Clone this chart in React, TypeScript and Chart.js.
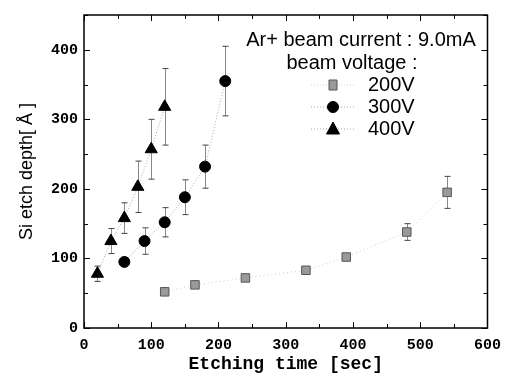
import React, { useEffect, useRef } from 'react';
import { Chart, registerables } from 'chart.js';
Chart.register(...registerables);

// Etching time [sec] and Si etch depth [Å]
const t200 = [120, 165, 240, 330, 390, 480, 540];
const d200 = [52, 62, 72, 83, 102, 138, 195];
const e200 = [4, 4, 5, 4, 4, 12, 23];

const t300 = [60, 90, 120, 150, 180, 210];
const d300 = [95, 125, 152, 188, 232, 355];
const e300 = [5, 19, 21, 25, 31, 50];

const t400 = [20, 40, 60, 80, 100, 120];
const d400 = [78, 125, 158, 203, 257, 318];
const e400 = [11, 18, 22, 37, 43, 55];

const legendHeader = ['Ar+ beam current : 9.0mA', 'beam voltage :'];
const legendLabels = ['200V', '300V', '400V'];

const xTicks = [0, 100, 200, 300, 400, 500, 600];
const yTicks = [0, 100, 200, 300, 400];

const mono = '"Liberation Mono", "DejaVu Sans Mono", monospace';
const sans = '"Liberation Sans", Arial, sans-serif';

function pts(xs: number[], ys: number[]) {
  return xs.map((x, i) => ({ x, y: ys[i] }));
}

const errors = [e200, e300, e400];

const errorBarPlugin = {
  id: 'errorBars',
  beforeDatasetsDraw(chart: any) {
    const { ctx, scales } = chart;
    const xs = scales.x, ys = scales.y;
    ctx.save();
    chart.data.datasets.forEach((ds: any, di: number) => {
      const errs = errors[di];
      ds.data.forEach((p: any, i: number) => {
        const px = Math.round(xs.getPixelForValue(p.x)) + 0.5;
        const top = ys.getPixelForValue(p.y + errs[i]);
        const bot = ys.getPixelForValue(p.y - errs[i]);
        ctx.strokeStyle = '#888';
        ctx.lineWidth = 1;
        ctx.beginPath();
        ctx.moveTo(px, top);
        ctx.lineTo(px, bot);
        ctx.stroke();
        ctx.strokeStyle = '#444';
        ctx.beginPath();
        ctx.moveTo(px - 3, top);
        ctx.lineTo(px + 3, top);
        ctx.moveTo(px - 3, bot);
        ctx.lineTo(px + 3, bot);
        ctx.stroke();
      });
    });
    ctx.restore();
  },
};

const frameTicksPlugin = {
  id: 'frameTicks',
  afterDraw(chart: any) {
    const { ctx, chartArea: a, scales } = chart;
    const xs = scales.x, ys = scales.y;
    ctx.save();
    ctx.strokeStyle = '#000';
    ctx.lineWidth = 1.5;
    ctx.strokeRect(a.left, a.top, a.right - a.left, a.bottom - a.top);
    ctx.lineWidth = 1;
    ctx.beginPath();
    for (let v = 0; v <= 600; v += 50) {
      const px = Math.round(xs.getPixelForValue(v)) + 0.5;
      const len = v % 100 === 0 ? 6 : 4;
      ctx.moveTo(px, a.bottom);
      ctx.lineTo(px, a.bottom - len);
      ctx.moveTo(px, a.top);
      ctx.lineTo(px, a.top + len);
    }
    for (let v = 0; v <= 450; v += 50) {
      const py = Math.round(ys.getPixelForValue(v)) + 0.5;
      const len = v % 100 === 0 ? 6 : 4;
      ctx.moveTo(a.left, py);
      ctx.lineTo(a.left + len, py);
      ctx.moveTo(a.right, py);
      ctx.lineTo(a.right - len, py);
    }
    ctx.stroke();

    // legend
    ctx.fillStyle = '#000';
    ctx.textBaseline = 'middle';
    ctx.font = `20px ${sans}`;
    ctx.textAlign = 'center';
    ctx.fillText(legendHeader[0], 361, 40);
    ctx.fillText(legendHeader[1], 352, 63);
    ctx.textAlign = 'left';
    const rows = [85, 107, 129];
    chart.data.datasets.forEach((ds: any, i: number) => {
      const y = rows[i];
      const mx = 333;
      ctx.save();
      ctx.strokeStyle = ds.borderColor;
      ctx.lineWidth = 1;
      ctx.setLineDash([1, 2]);
      ctx.beginPath();
      ctx.moveTo(mx - 22, y);
      ctx.lineTo(mx + 22, y);
      ctx.stroke();
      ctx.restore();
      ctx.fillStyle = ds.pointBackgroundColor;
      ctx.strokeStyle = ds.pointBorderColor;
      ctx.lineWidth = 1;
      ctx.beginPath();
      if (ds.pointStyle === 'rect') {
        ctx.rect(mx - 4, y - 5, 8, 10);
      } else if (ds.pointStyle === 'circle') {
        ctx.arc(mx, y, 5.5, 0, Math.PI * 2);
      } else {
        ctx.moveTo(mx, y - 7);
        ctx.lineTo(mx + 6.5, y + 5);
        ctx.lineTo(mx - 6.5, y + 5);
        ctx.closePath();
      }
      ctx.fill();
      ctx.stroke();
      ctx.fillStyle = '#000';
      ctx.font = `20px ${sans}`;
      ctx.fillText(legendLabels[i], 368, y);
    });
    ctx.restore();
  },
};

const bgPlugin = {
  id: 'bg',
  beforeDraw(chart: any) {
    const { ctx, width, height } = chart;
    ctx.save();
    ctx.fillStyle = '#fff';
    ctx.fillRect(0, 0, width, height);
    ctx.restore();
  },
};

export default function App() {
  const ref = useRef<HTMLCanvasElement>(null);
  useEffect(() => {
    document.body.style.margin = '0';
    const chart = new Chart(ref.current!, {
      type: 'line',
      data: {
        datasets: [
          {
            label: legendLabels[0],
            data: pts(t200, d200),
            borderColor: '#d0d0d0',
            borderWidth: 1,
            borderDash: [1, 3],
            pointStyle: 'rect',
            pointRadius: 6,
            pointBackgroundColor: '#9a9a9a',
            pointBorderColor: '#555',
            pointBorderWidth: 1,
          },
          {
            label: legendLabels[1],
            data: pts(t300, d300),
            borderColor: '#aaa',
            borderWidth: 1,
            borderDash: [1, 2],
            pointStyle: 'circle',
            pointRadius: 5.5,
            pointBackgroundColor: '#000',
            pointBorderColor: '#000',
            pointBorderWidth: 1,
          },
          {
            label: legendLabels[2],
            data: pts(t400, d400),
            borderColor: '#aaa',
            borderWidth: 1,
            borderDash: [1, 2],
            pointStyle: 'triangle',
            pointRadius: 7,
            pointBackgroundColor: '#000',
            pointBorderColor: '#000',
            pointBorderWidth: 1,
          },
        ],
      },
      options: {
        animation: false,
        responsive: true,
        maintainAspectRatio: false,
        layout: { padding: { top: 10, right: 17, left: 0, bottom: 0 } },
        plugins: { legend: { display: false }, tooltip: { enabled: false } },
        scales: {
          x: {
            type: 'linear',
            min: 0,
            max: 600,
            afterBuildTicks: (s: any) => { s.ticks = xTicks.map((v) => ({ value: v })); },
            afterFit: (s: any) => { s.height = 55; },
            grid: { display: false, drawTicks: false },
            border: { display: false },
            ticks: { padding: 8, color: '#000', font: { family: mono, size: 15, weight: 'bold' } },
            title: {
              display: true,
              text: 'Etching time [sec]',
              color: '#000',
              font: { family: mono, size: 18, weight: 'bold' },
              padding: { top: 0, bottom: 8 },
            },
          },
          y: {
            type: 'linear',
            min: 0,
            max: 450,
            afterBuildTicks: (s: any) => { s.ticks = yTicks.map((v) => ({ value: v })); },
            afterFit: (s: any) => { s.width = 84; },
            grid: { display: false, drawTicks: false },
            border: { display: false },
            ticks: { padding: 6, color: '#000', font: { family: mono, size: 15, weight: 'bold' } },
            title: {
              display: true,
              text: 'Si etch depth[ Å ]',
              color: '#000',
              font: { family: sans, size: 18 },
              padding: { top: 16, bottom: 0 },
            },
          },
        },
      },
      plugins: [bgPlugin, errorBarPlugin, frameTicksPlugin],
    });
    return () => chart.destroy();
  }, []);
  return (
    <div style={{ position: 'relative', width: 509, height: 383 }}>
      <canvas ref={ref} />
    </div>
  );
}
